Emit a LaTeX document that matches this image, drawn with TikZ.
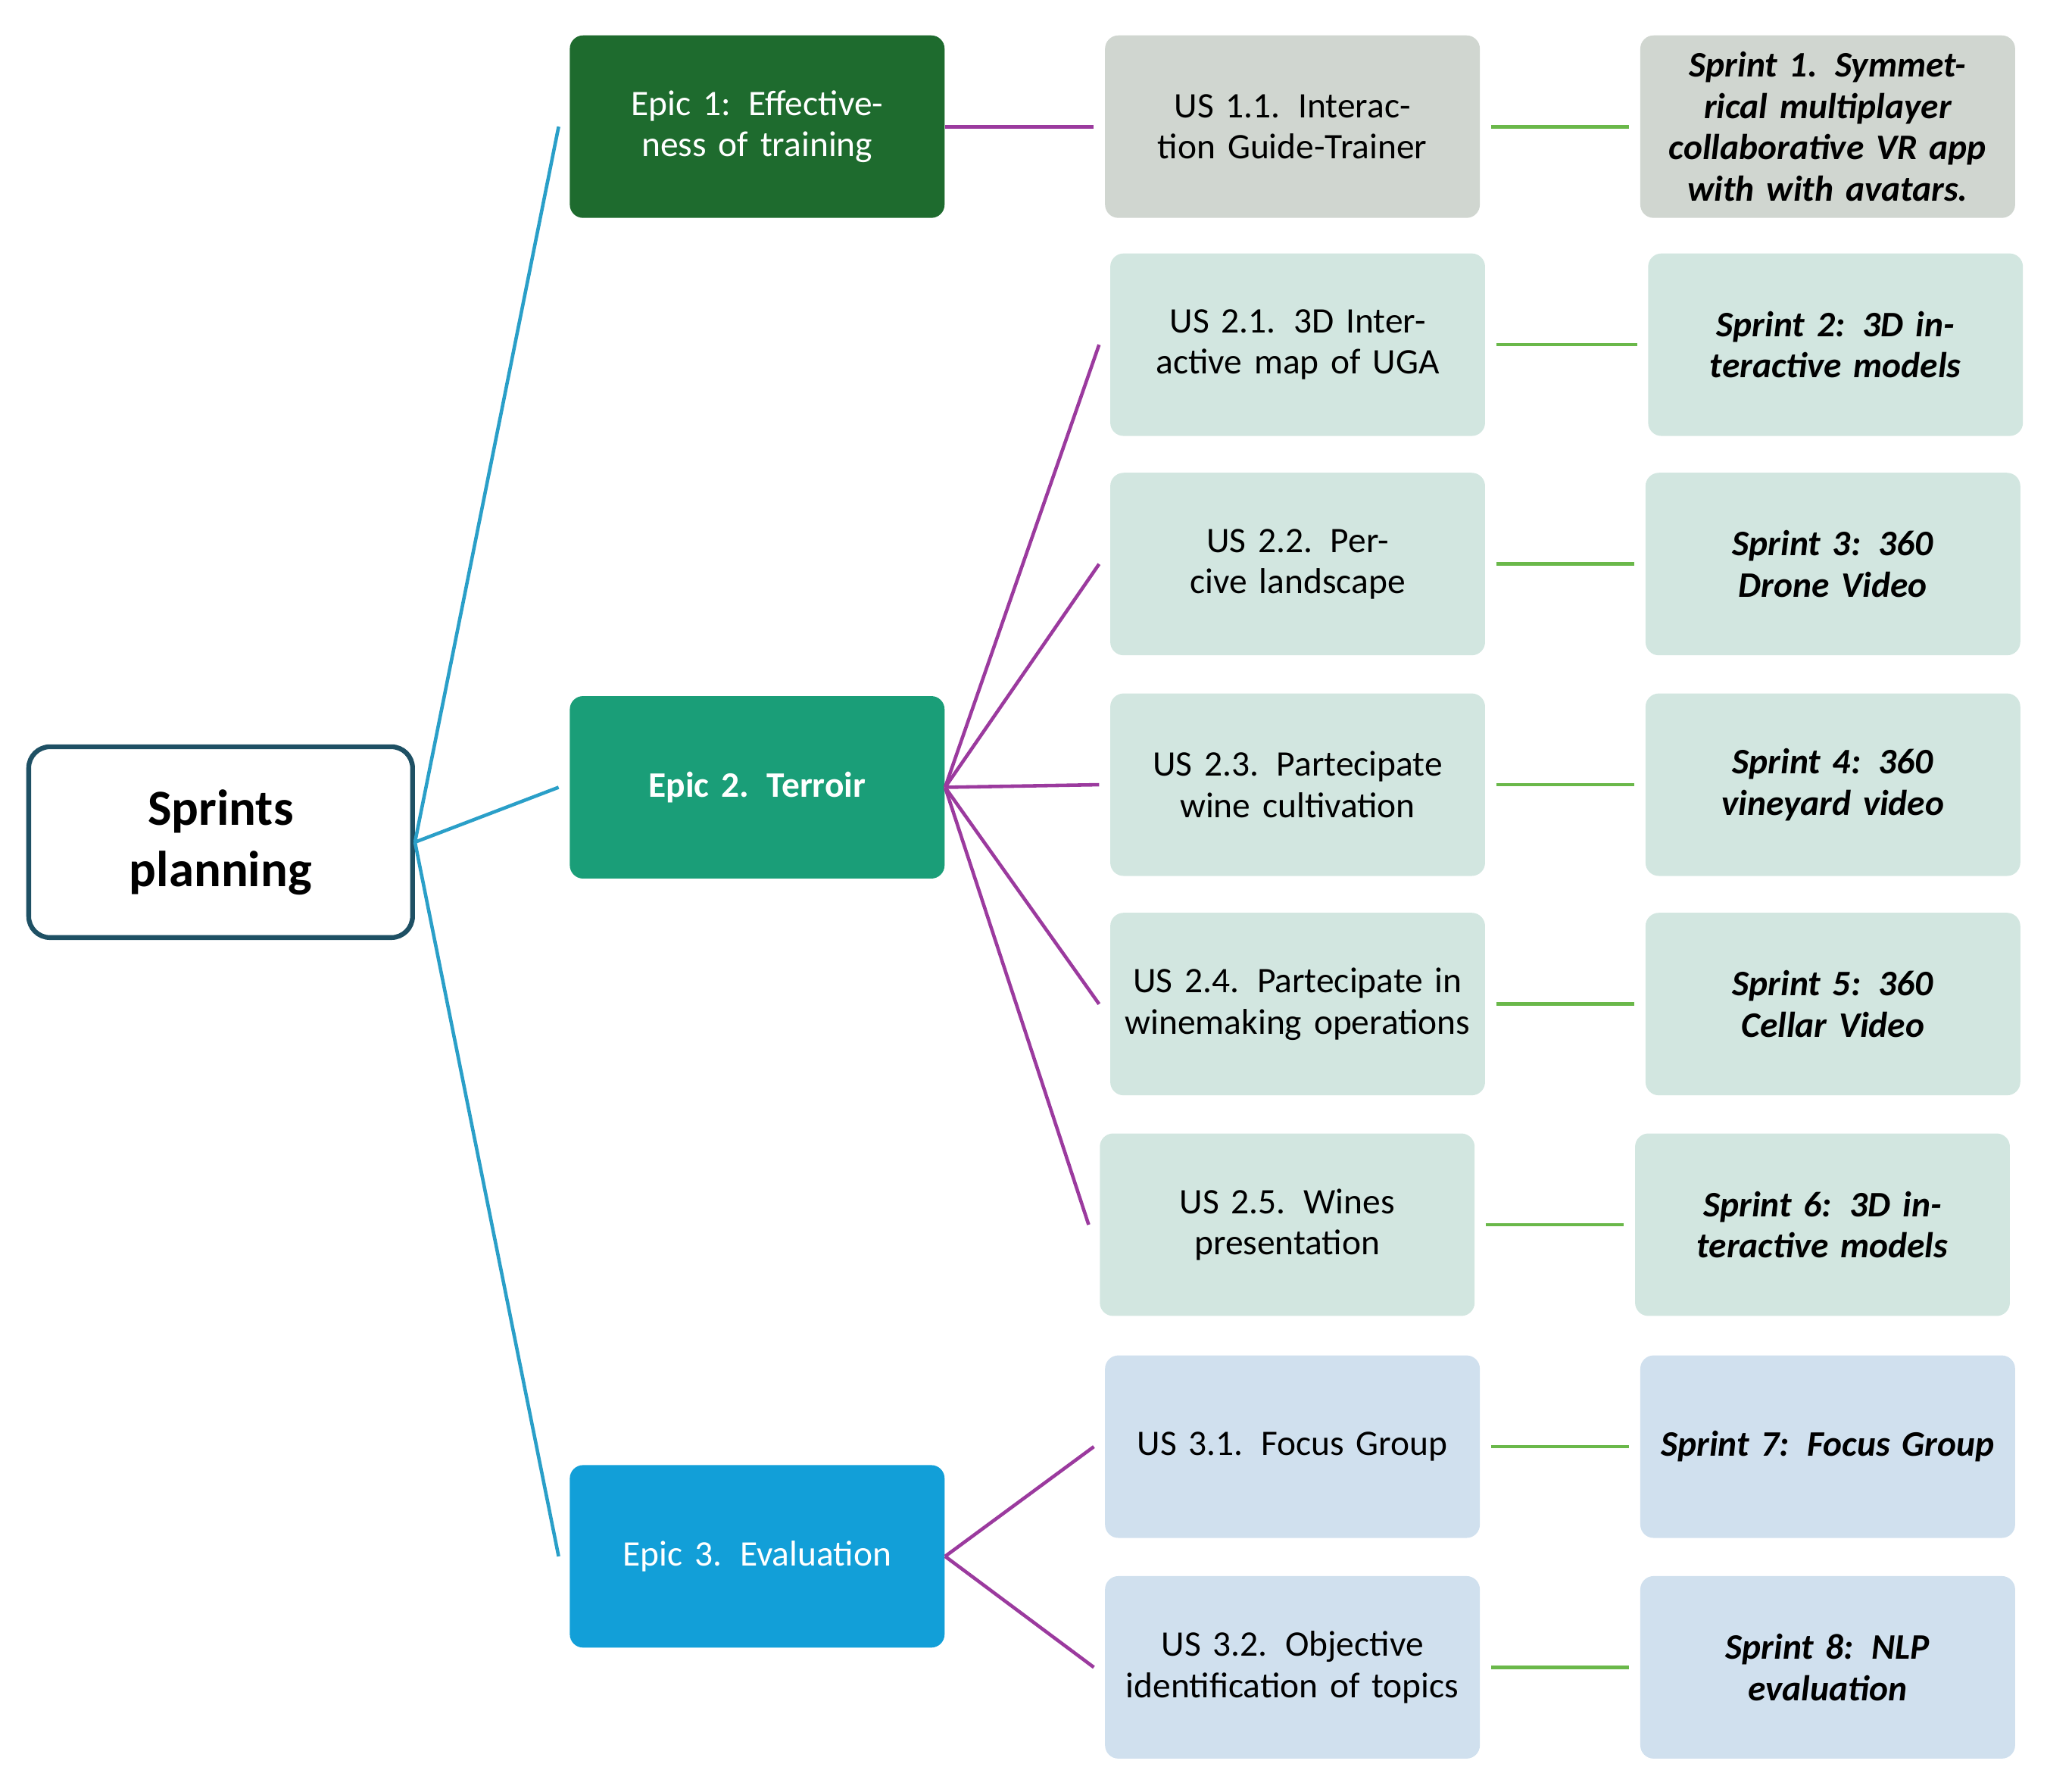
\documentclass[tikz,border=0pt]{standalone}
\usepackage{fontspec}
\setmainfont{Carlito}
\begin{document}
\begin{tikzpicture}[x=0.01724cm,y=-0.01724cm,
 box/.style={rounded corners=5pt,minimum width=4.95cm,minimum height=2.41cm,text width=4.8cm,align=center,inner sep=1pt,font=\fontsize{13.5}{15.5}\selectfont},
 epic/.style={box,text=white},
 spr/.style={box,font=\fontsize{13.5}{15.5}\selectfont\bfseries\itshape},
 bl/.style={line width=1.3pt,draw={rgb,255:red,42;green,159;blue,200}},
 pu/.style={line width=1.3pt,draw={rgb,255:red,155;green,58;blue,158}},
 gr/.style={line width=1.3pt,draw={rgb,255:red,106;green,184;blue,74}}]
\definecolor{eA}{RGB}{30,107,46}\definecolor{eB}{RGB}{26,158,120}\definecolor{eC}{RGB}{18,159,216}
\definecolor{gy}{RGB}{208,214,208}\definecolor{gn}{RGB}{210,230,224}\definecolor{bu}{RGB}{208,224,238}
\definecolor{rt}{RGB}{30,80,100}
\useasboundingbox (0,0) rectangle (1568,1372);
\node[draw=rt,line width=1.8pt,rounded corners=8pt,fill=white,minimum width=5.07cm,minimum height=2.52cm,align=center,font=\fontsize{19}{23}\selectfont\bfseries] (root) at (169,645) {Sprints\\planning};
\node[epic,fill=eA] (e1) at (580,97) {Epic 1: Effectiveness of training};
\node[epic,fill=eB,font=\fontsize{13.5}{15.5}\selectfont\bfseries] (e2) at (580,603) {Epic 2. Terroir};
\node[epic,fill=eC] (e3) at (580,1192) {Epic 3. Evaluation};
\node[box,fill=gy] (u11) at (990,97) {US 1.1. Interaction Guide-Trainer};
\node[box,fill=gn] (u21) at (994,264) {US 2.1. 3D Interactive map of UGA};
\node[box,fill=gn] (u22) at (994,432) {US 2.2. Percive landscape};
\node[box,fill=gn] (u23) at (994,601) {US 2.3. Partecipate wine cultivation};
\node[box,fill=gn] (u24) at (994,769) {US 2.4. Partecipate in winemaking operations};
\node[box,fill=gn] (u25) at (986,938) {US 2.5. Wines presentation};
\node[box,fill=bu] (u31) at (990,1108) {US 3.1. Focus Group};
\node[box,fill=bu] (u32) at (990,1277) {US 3.2. Objective identification of topics};
\node[spr,fill=gy] (s1) at (1400,97) {Sprint 1. Symmetrical multiplayer collaborative VR app with with avatars.};
\node[spr,fill=gn] (s2) at (1406,264) {Sprint 2: 3D interactive models};
\node[spr,fill=gn] (s3) at (1404,432) {Sprint 3: 360 Drone Video};
\node[spr,fill=gn] (s4) at (1404,601) {Sprint 4: 360 vineyard video};
\node[spr,fill=gn] (s5) at (1404,769) {Sprint 5: 360 Cellar Video};
\node[spr,fill=gn] (s6) at (1396,938) {Sprint 6: 3D interactive models};
\node[spr,fill=bu] (s7) at (1400,1108) {Sprint 7: Focus Group};
\node[spr,fill=bu] (s8) at (1400,1277) {Sprint 8: NLP evaluation};
\foreach \e in {e1,e2,e3} \draw[bl] (root.east) -- ([xshift=-4]\e.west);
\draw[pu] (e1.east) -- ([xshift=-4]u11.west);
\foreach \u in {u21,u22,u23,u24,u25} \draw[pu] (e2.east) -- ([xshift=-4]\u.west);
\foreach \u in {u31,u32} \draw[pu] (e3.east) -- ([xshift=-4]\u.west);
\foreach \u/\s in {u11/s1,u21/s2,u22/s3,u23/s4,u24/s5,u25/s6,u31/s7,u32/s8} \draw[gr] ([xshift=4]\u.east) -- ([xshift=-4]\s.west);
\end{tikzpicture}
\end{document}
